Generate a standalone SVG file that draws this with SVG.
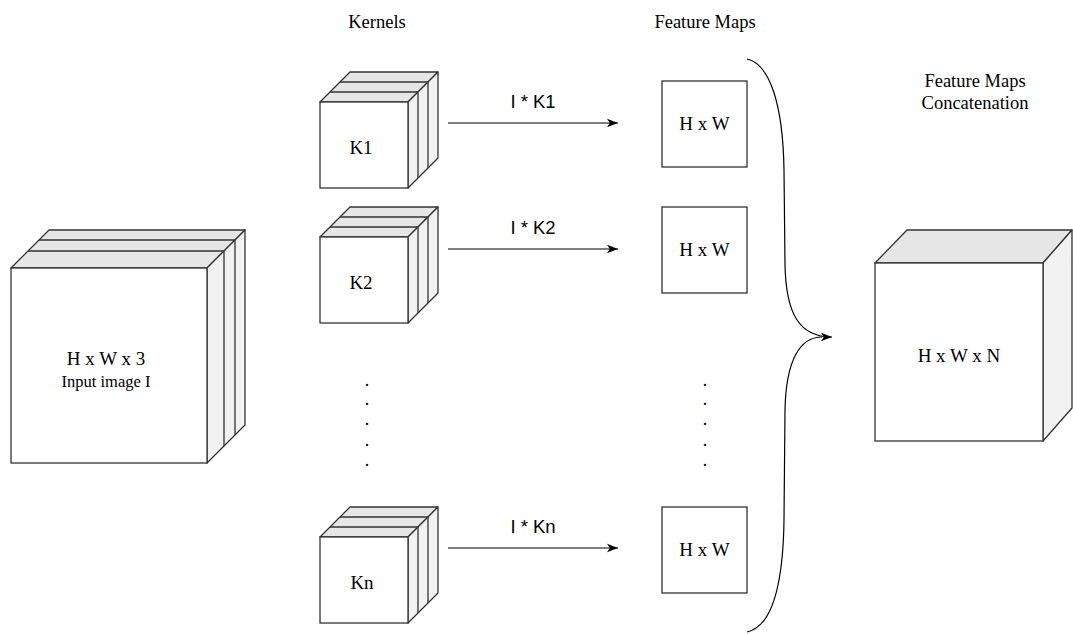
<svg xmlns="http://www.w3.org/2000/svg" width="1073" height="635" viewBox="0 0 1073 635">
  <style>
    .top { fill: #e6e6e6; stroke: #333; stroke-width: 1.3; stroke-linejoin: round; }
    .side { fill: #f2f2f2; stroke: #333; stroke-width: 1.3; stroke-linejoin: round; }
    .front { fill: #fff; stroke: #333; stroke-width: 1.3; }
    .edge { fill: none; stroke: #333; stroke-width: 1.3; }
    .box { fill: #fff; stroke: #333; stroke-width: 1.3; }
    .serif { font-family: "Liberation Serif", "Times New Roman", serif; fill: #000; text-anchor: middle; }
    .sans { font-family: "Liberation Sans", Arial, sans-serif; fill: #000; text-anchor: middle; font-size: 18.5px; }
    .link { fill: none; stroke: #000; stroke-width: 1.2; }
  </style>
  <defs>
    <marker id="arrow" markerUnits="userSpaceOnUse" markerWidth="12" markerHeight="10" refX="11" refY="5" orient="auto">
      <path d="M0,0.8 L11,5 L0,9.2 L2.8,5 z" fill="#000"/>
    </marker>
  </defs>

  <rect width="1073" height="635" fill="#fff"/>

  <!-- column headers -->
  <text class="serif" x="377" y="28" font-size="18.5">Kernels</text>
  <text class="serif" x="705" y="28" font-size="18.5">Feature Maps</text>

  <!-- input volume: three stacked channels -->
  <g id="input-image">
    <polygon class="top" points="11,268 49,230 245,230 207,268"/>
    <polygon class="side" points="207,268 245,230 245,425 207,463"/>
    <rect class="front" x="11" y="268" width="196" height="195"/>
    <path class="edge" d="M28,251H224 M39,240H235 M224,251V446 M235,240V435"/>
    <text class="serif" x="106" y="365" font-size="19">H x W x 3</text>
    <text class="serif" x="106" y="387" font-size="16.5">Input image I</text>
  </g>

  <!-- kernels -->
  <g id="kernel-1">
    <polygon class="top" points="320,102 350,72 438,72 408,102"/>
    <polygon class="side" points="408,102 438,72 438,158 408,188"/>
    <rect class="front" x="320" y="102" width="88" height="86"/>
    <path class="edge" d="M330,92H418 M340,82H428 M418,92V178 M428,82V168"/>
    <text class="serif" x="361" y="154" font-size="19">K1</text>
  </g>
  <g id="kernel-2" transform="translate(0,135)">
    <polygon class="top" points="320,102 350,72 438,72 408,102"/>
    <polygon class="side" points="408,102 438,72 438,158 408,188"/>
    <rect class="front" x="320" y="102" width="88" height="86"/>
    <path class="edge" d="M330,92H418 M340,82H428 M418,92V178 M428,82V168"/>
    <text class="serif" x="361" y="154" font-size="19">K2</text>
  </g>
  <g id="kernel-n" transform="translate(0,435)">
    <polygon class="top" points="320,102 350,72 438,72 408,102"/>
    <polygon class="side" points="408,102 438,72 438,158 408,188"/>
    <rect class="front" x="320" y="102" width="88" height="86"/>
    <path class="edge" d="M330,92H418 M340,82H428 M418,92V178 M428,82V168"/>
    <text class="serif" x="362" y="154" font-size="19">Kn</text>
  </g>

  <!-- vertical ellipsis between kernels -->
  <g id="kernel-dots" class="serif" font-size="18">
    <text x="367" y="386">.</text>
    <text x="367" y="405">.</text>
    <text x="367" y="425">.</text>
    <text x="367" y="446">.</text>
    <text x="367" y="466">.</text>
  </g>

  <!-- feature maps -->
  <g id="feature-map-1">
    <rect class="box" x="662" y="81" width="85" height="86"/>
    <text class="serif" x="704.5" y="130" font-size="19">H x W</text>
  </g>
  <g id="feature-map-2">
    <rect class="box" x="662" y="207" width="85" height="86"/>
    <text class="serif" x="704.5" y="256" font-size="19">H x W</text>
  </g>
  <g id="feature-map-n">
    <rect class="box" x="662" y="507" width="85" height="86"/>
    <text class="serif" x="704.5" y="556" font-size="19">H x W</text>
  </g>
  <g id="feature-map-dots" class="serif" font-size="18">
    <text x="705" y="386">.</text>
    <text x="705" y="405">.</text>
    <text x="705" y="425">.</text>
    <text x="705" y="446">.</text>
    <text x="705" y="466">.</text>
  </g>

  <!-- concatenated output volume -->
  <g id="concatenation">
    <text class="serif" x="975" y="87" font-size="18.5">Feature Maps</text>
    <text class="serif" x="975" y="109" font-size="18.5">Concatenation</text>
    <polygon class="top" points="875,263 907,230 1072,230 1043,263"/>
    <polygon class="side" points="1043,263 1072,230 1072,408 1043,441"/>
    <rect class="front" x="875" y="263" width="168" height="178"/>
    <text class="serif" x="959" y="362" font-size="19">H x W x N</text>
  </g>

  <!-- connectors -->
  <g id="connectors">
    <path class="link" d="M448,123H618" marker-end="url(#arrow)"/>
    <text class="sans" x="533" y="108">I * K1</text>
    <path class="link" d="M448,249H618" marker-end="url(#arrow)"/>
    <text class="sans" x="533" y="234">I * K2</text>
    <path class="link" d="M448,548H618" marker-end="url(#arrow)"/>
    <text class="sans" x="533" y="533">I * Kn</text>
    <path class="link" d="M747,59 C770,64 783,105 784,170 L785,265 C786,315 800,337 832,337" marker-end="url(#arrow)"/>
    <path class="link" d="M747,632 C770,627 783,590 784,520 L785,410 C786,360 800,337 822,337"/>
  </g>
</svg>
